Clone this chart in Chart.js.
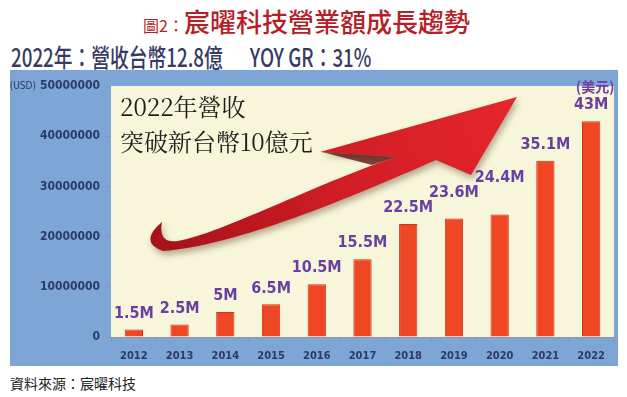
<!DOCTYPE html>
<html>
<head>
<meta charset="utf-8">
<script src="https://cdn.jsdelivr.net/npm/chart.js@4.4.0/dist/chart.umd.min.js"></script>
<style>
    body { margin: 0; background: #ffffff; width: 627px; height: 397px; position: relative; overflow: hidden; font-family: "Noto Sans CJK TC", sans-serif; }
    #title { position: absolute; left: 143px; top: 8px; color: #b51f27; white-space: nowrap; line-height: 1; }
    #title .fig { font-size: 16px; }
    #title .main { font-size: 26px; font-weight: 500; }
    #subtitle { position: absolute; left: 11px; top: 44px; font-size: 25px; font-weight: 500; line-height: 1; color: #363a66; white-space: nowrap; transform: scaleX(0.75); transform-origin: left top; }
    #panel { position: absolute; left: 10px; top: 70px; width: 608px; height: 296px; }
    #source { position: absolute; left: 10px; top: 373px; font-size: 14px; color: #222; }
</style>
</head>
<body>
<div id="title"><span class="fig">圖2：</span><span class="main">宸曜科技營業額成長趨勢</span></div>
<div id="subtitle">2022年：營收台幣12.8億　&nbsp; YOY GR：31%</div>
<div id="panel"><canvas id="revenueChart" width="608" height="296"></canvas></div>
<div id="source">資料來源：宸曜科技</div>

<script>
// Revenue by year (USD)
const years = ['2012', '2013', '2014', '2015', '2016', '2017', '2018', '2019', '2020', '2021', '2022'];
const revenue = [1500000, 2500000, 5000000, 6500000, 10500000, 15500000, 22500000, 23600000, 24400000, 35100000, 43000000];
const revenueLabels = ['1.5M', '2.5M', '5M', '6.5M', '10.5M', '15.5M', '22.5M', '23.6M', '24.4M', '35.1M', '43M'];
const yTicks = [0, 10000000, 20000000, 30000000, 40000000, 50000000];

const NAVY = '#2c3a68';
const PURPLE = '#6a3fa2';
const TICK_FONT = 'bold 12px "DejaVu Sans Condensed", "DejaVu Sans", sans-serif';

// blue panel + cream plot area
const backgroundPlugin = {
    id: 'panelBackground',
    beforeDraw(chart) {
        const { ctx, chartArea } = chart;
        ctx.save();
        ctx.fillStyle = '#7da5d6';
        ctx.fillRect(0, 0, chart.width, chart.height);
        ctx.fillStyle = '#f7f6da';
        ctx.fillRect(chartArea.left, chartArea.top, chartArea.right - chartArea.left, chartArea.bottom - chartArea.top);
        ctx.restore();
    }
};

// big red swoosh arrow + headline text (decoration, placed relative to chart area)
const arrowPlugin = {
    id: 'swooshArrow',
    beforeDatasetsDraw(chart) {
        const { ctx, chartArea } = chart;
        const w = chartArea.right - chartArea.left;
        const h = chartArea.bottom - chartArea.top;
        // reference-frame helper: area spans 111..614 x 86..337
        const P = (x, y) => [chartArea.left + (x - 111) / 503 * w, chartArea.top + (y - 86) / 251 * h];

        ctx.save();
        const g0 = P(150, 245), g1 = P(517, 97);
        const grad = ctx.createLinearGradient(g0[0], g0[1], g1[0], g1[1]);
        grad.addColorStop(0, '#a3121a');
        grad.addColorStop(0.5, '#d11d25');
        grad.addColorStop(1, '#e4262b');
        ctx.fillStyle = grad;
        ctx.shadowColor = 'rgba(60, 20, 0, 0.35)';
        ctx.shadowBlur = 6;
        ctx.shadowOffsetX = 2;
        ctx.shadowOffsetY = 4;

        ctx.beginPath();
        ctx.moveTo(...P(162, 222));
        ctx.quadraticCurveTo(...P(138, 242), ...P(163, 251));
        ctx.bezierCurveTo(...P(235, 246), ...P(350, 198), ...P(436, 160));
        ctx.lineTo(...P(471, 175));
        ctx.lineTo(...P(517, 97));
        ctx.lineTo(...P(320, 152));
        ctx.lineTo(...P(396, 157));
        ctx.bezierCurveTo(...P(310, 186), ...P(225, 232), ...P(178, 241));
        ctx.quadraticCurveTo(...P(158, 244), ...P(162, 222));
        ctx.closePath();
        ctx.fill();

        // dark fold under the back barb
        ctx.shadowColor = 'transparent';
        ctx.fillStyle = 'rgba(90, 8, 10, 0.75)';
        ctx.beginPath();
        ctx.moveTo(...P(322, 152));
        ctx.lineTo(...P(396, 157));
        ctx.lineTo(...P(372, 165));
        ctx.closePath();
        ctx.fill();

        // headline
        ctx.fillStyle = '#1e1e1e';
        ctx.font = '24px "Noto Serif CJK TC", "Noto Sans CJK TC", serif';
        ctx.textBaseline = 'middle';
        ctx.textAlign = 'left';
        const l1 = P(120, 107), l2 = P(120, 142);
        ctx.fillText('2022年營收', l1[0], l1[1]);
        ctx.fillText('突破新台幣10億元', l2[0], l2[1]);
        ctx.restore();
    }
};

// value labels above bars, stepping up when neighbours would collide
const valueLabelPlugin = {
    id: 'valueLabels',
    afterDatasetsDraw(chart) {
        const { ctx } = chart;
        const bars = chart.getDatasetMeta(0).data;
        ctx.save();
        ctx.font = 'bold 16px "DejaVu Sans Condensed", "DejaVu Sans", sans-serif';
        ctx.fillStyle = PURPLE;
        ctx.textAlign = 'center';
        ctx.textBaseline = 'middle';
        let prev = null;
        bars.forEach((bar, i) => {
            const text = revenueLabels[i];
            const tw = ctx.measureText(text).width;
            let y = bar.y - 16;
            if (prev && Math.abs(bar.x - prev.x) < (tw + prev.w) / 2 && y > prev.y - 15) {
                y = prev.y - 15;
            }
            ctx.fillText(text, bar.x, y);
            prev = { x: bar.x, y: y, w: tw };
        });
        // unit note above last bar
        if (prev) {
            ctx.font = 'bold 14px "Noto Sans CJK TC", sans-serif';
            ctx.fillText('(美元)', prev.x + 4, prev.y - 18);
        }
        // "(USD)" in front of the top y tick
        const yScale = chart.scales.y;
        const topY = yScale.getPixelForValue(yTicks[yTicks.length - 1]);
        ctx.font = TICK_FONT;
        const labelW = ctx.measureText(String(yTicks[yTicks.length - 1])).width;
        ctx.font = '10px "DejaVu Sans Condensed", "DejaVu Sans", sans-serif';
        ctx.fillStyle = NAVY;
        ctx.textAlign = 'right';
        ctx.fillText('(USD)', yScale.right - 11 - labelW - 4, topY);
        ctx.restore();
    }
};

const ctx = document.getElementById('revenueChart').getContext('2d');
new Chart(ctx, {
    type: 'bar',
    data: {
        labels: years,
        datasets: [{
            data: revenue,
            backgroundColor: '#ef4623',
            borderColor: '#cf3418',
            borderWidth: 1,
            categoryPercentage: 1.0,
            barPercentage: 0.4
        }]
    },
    options: {
        responsive: false,
        animation: false,
        layout: { padding: { left: 0, right: 4, top: 16, bottom: 0 } },
        plugins: {
            legend: { display: false },
            tooltip: { enabled: false },
            title: { display: false }
        },
        scales: {
            x: {
                grid: { drawOnChartArea: false, tickLength: 5, color: '#8d96a8', offset: true },
                border: { color: '#8d96a8' },
                ticks: { color: NAVY, font: { family: '"DejaVu Sans Condensed", "DejaVu Sans", sans-serif', size: 11, weight: 'bold' }, padding: 8 },
                afterFit(scale) { scale.height = 29; }
            },
            y: {
                min: 0,
                max: 50000000,
                afterBuildTicks(scale) { scale.ticks = yTicks.map(v => ({ value: v })); },
                grid: { drawOnChartArea: false, tickLength: 5, color: '#8d96a8' },
                border: { display: false },
                ticks: {
                    color: NAVY,
                    font: { family: '"DejaVu Sans Condensed", "DejaVu Sans", sans-serif', size: 12, weight: 'bold' },
                    padding: 6,
                    callback: v => String(v)
                },
                afterFit(scale) { scale.width = 101; }
            }
        }
    },
    plugins: [backgroundPlugin, arrowPlugin, valueLabelPlugin]
});
</script>
</body>
</html>
